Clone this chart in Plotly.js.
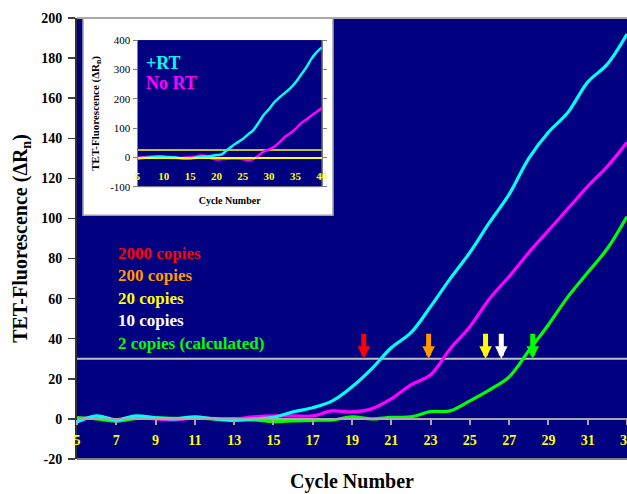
<!DOCTYPE html>
<html><head><meta charset="utf-8">
<script src="https://cdn.plot.ly/plotly-3.0.1.min.js"></script>
<style>html,body{margin:0;padding:0;background:#fff}#chart{width:627px;height:494px}</style>
</head><body><div id="chart"></div>
<script>
// ---- main chart data ----
const cycles = [5,6,7,8,9,10,11,12,13,14,15,16,17,18,19,20,21,22,23,24,25,26,27,28,29,30,31,32,33];
const cyanCurve    = [-1.5,1.5,-0.5,1.5,0.5,0,1,0,-0.7,0,0.8,3.5,5.6,9,16,25,35.5,43,56,70,83,98,112,130,143,153,168,177,192];
const magentaCurve = [0,0.5,-1,0.5,0,-0.5,0.5,0,0,1,1.5,1.5,1.5,4,3.5,5,10,17,22,35,46,60,71,83,94,105,116,126,138];
const greenCurve   = [0.7,0,-1,0.3,0.5,0.3,0.5,0,0,-0.5,-1.3,-1,-0.7,-0.5,1,0,0.8,1,3.6,4,9,14.5,21,34,47,61,73,85,101];
const threshold = 30;
const yTickValues = [-20,0,20,40,60,80,100,120,140,160,180,200];
const xTickValues = [5,7,9,11,13,15,17,19,21,23,25,27,29,31,33];
const legendLabels = ['2000 copies','200 copies','20 copies','10 copies','2 copies (calculated)'];
const legendColors = ['#ff0000','#ff9900','#ffff00','#ffffff','#00ff00'];
const arrowCycles  = [19.6, 22.9, 25.8, 26.6, 28.2];
const arrowColors  = ['#ff0000','#ff9900','#ffff00','#ffffff','#00ff00'];
const xTitle = 'Cycle Number';
const yTitle = 'TET-Fluorescence (ΔR<sub>n</sub>)';

// ---- inset data ----
const insetCycles = [5,6,7,8,9,10,11,12,13,14,15,16,17,18,19,20,21,22,23,24,25,26,27,28,29,30,31,32,33,34,35,36,37,38,39,40];
const insetPlusRT = [-4,-2,-1,0,2,2,1,0,-2,-4,-4,-1,2,3,5,8,10,25,39,51,63,78,93,118,145,165,188,205,220,235,255,280,305,335,358,375];
const insetNoRT   = [-2,0,2,3,4,2,-1,-2,-2,-1,0,3,6,5,-3,-7,-6,-5,-4,-4,-6,-9,-6,6,20,27,37,52,70,82,97,115,128,142,155,168];
const insetThreshold = 25;
const insetYTicks = [-100,0,100,200,300,400];
const insetXTicks = [5,10,15,20,25,30,35,40];
const insetLabels = ['+RT','No RT'];
const insetColors = ['#00ffff','#ff00ff'];

const F = 'Liberation Serif, Times New Roman, serif';

const traces = [
  {x:[cycles[0], cycles[cycles.length-1]], y:[threshold, threshold], mode:'lines', line:{color:'#c0c0c0', width:2}, xaxis:'x', yaxis:'y', hoverinfo:'skip'},
  {x:cycles, y:magentaCurve, mode:'lines', line:{color:'#ff00ff', width:3.2, shape:'spline', smoothing:1}, xaxis:'x', yaxis:'y'},
  {x:cycles, y:greenCurve, mode:'lines', line:{color:'#00ff00', width:3.2, shape:'spline', smoothing:1}, xaxis:'x', yaxis:'y'},
  {x:cycles, y:cyanCurve, mode:'lines', line:{color:'#00ffff', width:3.2, shape:'spline', smoothing:1}, xaxis:'x', yaxis:'y'},
  {x:[insetCycles[0], insetCycles[insetCycles.length-1]], y:[insetThreshold, insetThreshold], mode:'lines', line:{color:'#ffff00', width:1.5}, xaxis:'x2', yaxis:'y2'},
  {x:insetCycles, y:insetNoRT, mode:'lines', line:{color:'#ff00ff', width:2.5, shape:'spline', smoothing:1}, xaxis:'x2', yaxis:'y2'},
  {x:insetCycles, y:insetPlusRT, mode:'lines', line:{color:'#00ffff', width:2.5, shape:'spline', smoothing:1}, xaxis:'x2', yaxis:'y2'}
];

const annotations = [];
legendLabels.forEach((t,i)=>{
  annotations.push({xref:'x', yref:'y', x:7, y:82.6 - i*11.2, text:t, showarrow:false, xanchor:'left', yanchor:'middle',
    font:{family:F, size:17, color:legendColors[i], weight:'bold'}});
});
arrowCycles.forEach((c,i)=>{
  annotations.push({xref:'x', yref:'y', x:c, y:threshold, axref:'x', ayref:'y', ax:c, ay:43.5, text:' ', showarrow:true,
    arrowhead:2, arrowsize:0.5, arrowwidth:5, arrowcolor:arrowColors[i], font:{size:1}});
});
insetLabels.forEach((t,i)=>{
  annotations.push({xref:'x2', yref:'y2', x:6.3, y:321 - i*68, text:t, showarrow:false, xanchor:'left', yanchor:'middle',
    font:{family:F, size:18, color:insetColors[i], weight:'bold'}});
});

const y2dom = [0.6175, 0.950];
const layout = {
  width:627, height:494,
  margin:{l:77, r:0, t:18, b:35},
  paper_bgcolor:'#ffffff', plot_bgcolor:'#000080',
  showlegend:false,
  font:{family:F, color:'#000'},
  xaxis:{domain:[0,1], range:[5,33], anchor:'free', position:20/220,
    tickmode:'array', tickvals:xTickValues, ticktext:xTickValues.map(String), ticklabeloverflow:'allow',
    showline:true, linecolor:'#a8a8a8', linewidth:2, ticks:'outside', ticklen:5, tickcolor:'#a8a8a8', tickwidth:2,
    tickfont:{family:F, size:14, color:'#ffff00', weight:'bold'}, ticklabelstandoff:3,
    showgrid:false, zeroline:false,
    title:{text:xTitle, font:{family:F, size:20, weight:'bold', color:'#000'}, standoff:26}},
  yaxis:{domain:[0,1], range:[-20,200], anchor:'x',
    tickmode:'array', tickvals:yTickValues, ticktext:yTickValues.map(String),
    showline:true, linecolor:'#303030', linewidth:2, ticks:'outside', ticklen:7, tickcolor:'#404040', tickwidth:1.5,
    tickfont:{family:F, size:14, weight:'bold', color:'#000'}, ticklabelstandoff:3,
    showgrid:false, zeroline:false,
    title:{text:yTitle, font:{family:F, size:20, weight:'bold', color:'#000'}, standoff:8}},
  xaxis2:{domain:[0.110, 0.445], range:[5,40], anchor:'free', position:y2dom[0] + 0.2*(y2dom[1]-y2dom[0]),
    tickmode:'array', tickvals:insetXTicks, ticktext:insetXTicks.map(String),
    showline:true, linecolor:'#ffff00', linewidth:1.5, ticks:'',
    tickfont:{family:F, size:11, color:'#ffff00', weight:'bold'}, ticklabelstandoff:8,
    showgrid:false, zeroline:false,
    title:{text:xTitle, font:{family:F, size:10, weight:'bold', color:'#000'}, standoff:16}},
  yaxis2:{domain:y2dom, range:[-100,400], anchor:'x2',
    tickmode:'array', tickvals:insetYTicks, ticktext:insetYTicks.map(String),
    showline:true, linecolor:'#808080', linewidth:1, mirror:'ticks', ticks:'outside', ticklen:4, tickcolor:'#808080',
    tickfont:{family:F, size:11, color:'#000'},
    showgrid:false, zeroline:false,
    title:{text:yTitle, font:{family:F, size:11, weight:'bold', color:'#000'}, standoff:8}},
  annotations:annotations,
  shapes:[
    {type:'rect', xref:'paper', yref:'paper', x0:0.0109, x1:0.4655, y0:0.553, y1:1.0, fillcolor:'#ffffff', line:{color:'#a0a0a0', width:1.5}, layer:'below'},
    {type:'line', xref:'paper', yref:'paper', x0:0, x1:1, y0:1, y1:1, line:{color:'#a8a8a8', width:2}, layer:'above'},
    {type:'line', xref:'paper', yref:'paper', x0:0, x1:1, y0:0, y1:0, line:{color:'#808080', width:2}, layer:'above'},
    {type:'line', xref:'x2 domain', yref:'y2 domain', x0:0, x1:1, y0:0, y1:0, line:{color:'#808080', width:1}, layer:'above'}
  ]
};

Plotly.newPlot('chart', traces, layout, {displayModeBar:false, staticPlot:true});
</script>
</body></html>
